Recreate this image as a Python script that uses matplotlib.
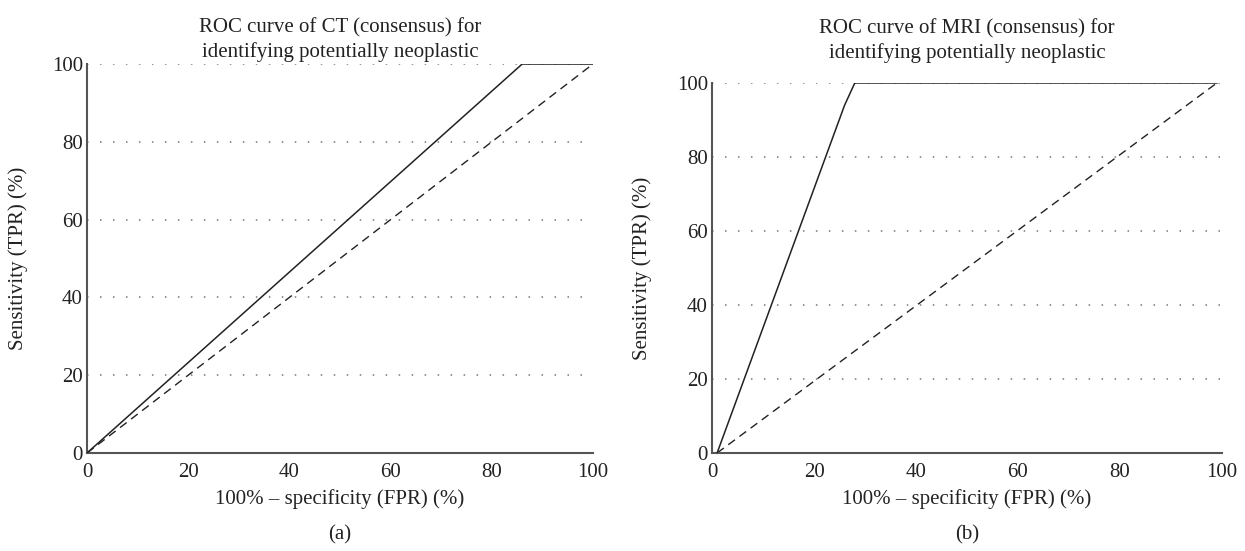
import matplotlib
matplotlib.use("Agg")
import matplotlib.pyplot as plt

# Panel (a): CT
ct_fpr = [0, 86, 87, 100]
ct_tpr = [0, 100, 100, 100]
ct_ref_x = [0, 100]
ct_ref_y = [0, 100]

# Panel (b): MRI
mri_fpr = [1, 26, 28, 99]
mri_tpr = [0, 94, 100, 100]
mri_ref_x = [1, 99]
mri_ref_y = [0, 100]

ticks = [0, 20, 40, 60, 80, 100]
titles = [
    "ROC curve of CT (consensus) for\nidentifying potentially neoplastic",
    "ROC curve of MRI (consensus) for\nidentifying potentially neoplastic",
]


def draw_panel(ax, x, y, rx, ry, title, title_pad):
    for t in ticks[1:]:
        ax.plot([0, 100], [t, t], color="#777777", linestyle=(0, (1, 7.5)), linewidth=1.1, zorder=1)
    ax.plot(rx, ry, color="#222222", linestyle=(0, (6, 4)), linewidth=1.0, zorder=2)
    ax.plot(x, y, color="#222222", linewidth=1.1, zorder=3)
    ax.set_xlim(0, 100)
    ax.set_ylim(0, 100)
    ax.set_xticks(ticks)
    ax.set_yticks(ticks)
    ax.tick_params(length=0, labelsize=15, colors="#222222")
    ax.tick_params(axis="y", pad=3)
    ax.tick_params(axis="x", pad=7)
    for s in ["top", "right"]:
        ax.spines[s].set_visible(False)
    for s in ["left", "bottom"]:
        ax.spines[s].set_color("#555555")
        ax.spines[s].set_linewidth(1.5)
    ax.set_title(title, fontsize=15, pad=title_pad, color="#222222", linespacing=1.3)
    ax.set_ylabel("Sensitivity (TPR) (%)", fontsize=15, color="#222222")
    ax.yaxis.set_label_coords(-0.117, 0.5)
    ax.set_xlabel("100% \u2013 specificity (FPR) (%)", fontsize=15, color="#222222", labelpad=5)


def main():
    plt.rcParams["font.family"] = "serif"
    plt.rcParams["font.serif"] = ["Liberation Serif", "DejaVu Serif"]
    fig = plt.figure(figsize=(12.45, 5.51), dpi=100)

    ax1 = fig.add_axes([0.0699, 0.1779, 0.4064, 0.7059])
    ax2 = fig.add_axes([0.5719, 0.1779, 0.4096, 0.6715])

    draw_panel(ax1, ct_fpr, ct_tpr, ct_ref_x, ct_ref_y, titles[0], 5)
    draw_panel(ax2, mri_fpr, mri_tpr, mri_ref_x, mri_ref_y, titles[1], 18)

    fig.text(340 / 1245, 1 - 535 / 551, "(a)", ha="center", va="center", fontsize=15, color="#222222")
    fig.text(967 / 1245, 1 - 535 / 551, "(b)", ha="center", va="center", fontsize=15, color="#222222")

    fig.savefig("out.png", dpi=100)


if __name__ == "__main__":
    main()
